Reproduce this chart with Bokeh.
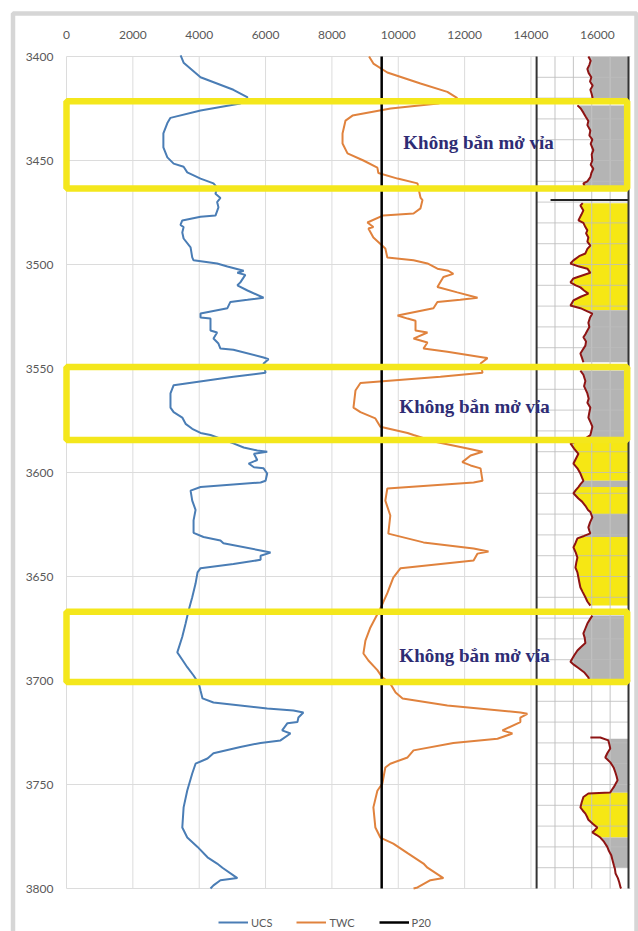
import numpy as np
from bokeh.plotting import figure
from bokeh.models import Range1d, Legend, LegendItem
from bokeh.core.properties import value
from bokeh.embed import file_html
from bokeh.resources import INLINE

# ---- well log data (depth in m, strength in psi) ----
UCS_DEPTH = [3399.5, 3403, 3410, 3416, 3419.7, 3422.6, 3426, 3429.5, 3432, 3437, 3443.7, 3448.5,
             3451.5, 3453, 3455.7, 3458.7, 3461, 3463, 3466, 3468, 3470, 3472.5, 3476.5, 3477,
             3478.8, 3481, 3482, 3484.6, 3487.5, 3491.8, 3496.6, 3498, 3499.5, 3501, 3503, 3504,
             3505, 3508.6, 3510, 3512.5, 3516, 3517, 3518, 3521, 3523.6, 3525.5, 3526, 3531.7,
             3532.7, 3535.6, 3538, 3540.4, 3541, 3544.7, 3545.5, 3547.6, 3552, 3554, 3558, 3562,
             3568.8, 3571, 3573.6, 3576.6, 3579, 3581, 3582, 3586, 3588, 3589.4, 3590, 3591,
             3594, 3595.7, 3597.5, 3598, 3600.5, 3604, 3604.8, 3607, 3608.7, 3613.5, 3618, 3623,
             3629, 3631, 3632.7, 3634, 3637.5, 3638.5, 3640, 3642, 3644, 3646, 3648, 3653.4,
             3660, 3666.3, 3672.6, 3679, 3686.5, 3690, 3693.6, 3697.6, 3701.5, 3704.8, 3708.6,
             3710.6, 3713.5, 3714.4, 3715.4, 3717.8, 3720, 3720.5, 3724, 3725.5, 3728.8, 3730,
             3732, 3735, 3737.5, 3740, 3744.7, 3752.9, 3761, 3770.7, 3775.5, 3780, 3785, 3788,
             3790, 3795, 3796, 3798.5, 3800]
UCS = [3440, 3530, 4040, 5030, 5460, 5240, 4040, 3134, 3040, 2920, 2920, 3040,
       3230, 3530, 3640, 4040, 4430, 4540, 4490, 4640, 4540, 4580, 4490, 4040,
       3490, 3436, 3530, 3490, 3530, 3740, 3790, 3830, 4540, 4850, 5340, 5150,
       5390, 5240, 5150, 5455, 5940, 5455, 4940, 4850, 4040, 4040, 4340, 4340,
       4540, 4430, 4580, 4640, 5030, 5940, 6090, 5940, 6000, 5030, 3230, 3134,
       3134, 3230, 3490, 3590, 3790, 4040, 4340, 5030, 5340, 5750, 6050, 5650,
       5750, 5490, 5650, 5940, 6050, 6000, 5850, 4040, 3740, 3790, 3890, 3830,
       3830, 4130, 4640, 4730, 5850, 6150, 5850, 5850, 5030, 4040, 3950, 3890,
       3790, 3680, 3590, 3490, 3340, 3490, 3640, 3830, 3990, 4040, 4100,
       4430, 6050, 6840, 7140, 6990, 6960, 6660, 6500, 6750, 6450, 5850,
       5240, 4430, 4250, 3890, 3790, 3640, 3530, 3490, 3640, 3950, 4250, 4540,
       4700, 5150, 4640, 4430, 4340]

TWC_DEPTH = [3400, 3403.4, 3407.7, 3413, 3417, 3420, 3422.6, 3425, 3428.4, 3430.8, 3437, 3441.8,
             3446.6, 3450, 3453.4, 3456, 3458.7, 3461, 3463.5, 3467.8, 3469, 3473, 3475.5, 3476.4,
             3479.8, 3482, 3482.7, 3487, 3492.3, 3496.6, 3498, 3499.5, 3502, 3503, 3504.5, 3506,
             3510.8, 3513.4, 3516, 3517, 3518, 3521, 3524.5, 3526, 3527, 3531.7, 3532.7, 3535.6,
             3537.5, 3540.4, 3542, 3544.7, 3545, 3547.6, 3552, 3554, 3557, 3560.6, 3568.8, 3571,
             3574, 3578, 3581, 3582, 3585.5, 3588.5, 3590, 3591.8, 3595, 3596.6, 3598, 3604,
             3604.8, 3607.7, 3613.5, 3620.7, 3629.4, 3633.6, 3636.5, 3638, 3639, 3642.3, 3646,
             3650.5, 3658, 3665.4, 3674.5, 3680.8, 3687, 3690.4, 3695, 3698.5, 3701.5, 3705.8,
             3708.7, 3712, 3715.4, 3716, 3717.8, 3720, 3724, 3725.5, 3728, 3730, 3733.6, 3737,
             3740, 3741.8, 3749.5, 3753, 3761, 3770.7, 3775.5, 3778.4, 3783, 3788, 3790, 3795,
             3796, 3799.5, 3800]
TWC = [9120, 9250, 9670, 10670, 11480, 11780, 11200, 9770, 8620, 8410, 8320, 8320,
       8470, 8950, 9370, 9400, 9980, 10580, 10610, 10670, 10730, 10670, 10460, 9550,
       9070, 9250, 9100, 9250, 9610, 9670, 10460, 10880, 11180, 11510, 11660, 11360,
       11180, 11780, 12390, 11870, 11180, 11060, 9980, 10280, 10520, 10520, 10880, 10460,
       10880, 10760, 11480, 12570, 12690, 12480, 12540, 11270, 8860, 8710, 8650, 8860,
       9310, 9460, 10280, 10460, 11180, 12090, 12540, 12180, 11930, 12180, 12480, 12540,
       12270, 9670, 9610, 9760, 9700, 10760, 12270, 12720, 12390, 12270, 10070,
       9850, 9670, 9460, 9160, 9010, 8950, 9100, 9370, 9520, 9760, 9920,
       10130, 11480, 13680, 13890, 13680, 13680, 13140, 13440, 12990, 11660, 10460, 10280,
       9760, 9610, 9520, 9370, 9250, 9310, 9460, 9850, 10280, 10760, 10880, 11360,
       10970, 10580, 10460]

P20_DEPTH = [3400, 3800]
P20 = [9500, 9500]

X_TICKS = [0, 2000, 4000, 6000, 8000, 10000, 12000, 14000, 16000]
Y_TICKS = [3400, 3450, 3500, 3550, 3600, 3650, 3700, 3750, 3800]
X_MAX = 17000

# intervals left closed (no perforation)
ZONE_TOP = [3421.5, 3549.3, 3667.0]
ZONE_BOTTOM = [3463.5, 3584.4, 3700.7]
ZONE_RIGHT = 16900
ZONE_LABEL = "Không bắn mở vỉa"
ZONE_LABEL_X = [12420, 12300, 12300]
ZONE_LABEL_DEPTH = [3441.3, 3568.3, 3688.0]

# lithology track: gamma-ray style curve, one list per logged run
GR_DEPTH = [
    [3400, 3402, 3404, 3406, 3408, 3410, 3412, 3414, 3416, 3418, 3420],
    [3423.5, 3425, 3427, 3429, 3431, 3433, 3435.6, 3438, 3440, 3442, 3445, 3447, 3450,
     3452, 3454, 3456, 3458, 3460, 3461, 3462.5],
    [3470.5, 3471.6, 3474, 3476, 3478.8, 3480, 3482, 3483.6, 3485, 3487, 3489, 3490.9,
     3492.5, 3494.7, 3496, 3498, 3499.5, 3501, 3502, 3504, 3505.5, 3506.7, 3508.6, 3510,
     3511, 3512.5, 3514, 3515.5, 3517.3, 3519.7, 3521, 3522.5, 3523.6, 3525.5, 3528, 3530,
     3531.7, 3533.5, 3535, 3537, 3539, 3541, 3542.8, 3545, 3547],
    [3551, 3553, 3556, 3558.5, 3562, 3564.5, 3566.5, 3568.8, 3571, 3573.6, 3576, 3578,
     3580, 3582, 3584, 3586, 3588.5, 3591, 3593.5, 3595.7, 3598, 3600.5, 3602.5, 3604,
     3605.5, 3607, 3608.5, 3610, 3612.5, 3614, 3616, 3618, 3619, 3621.6, 3624, 3626.4,
     3628, 3629.3, 3630.5, 3631.7, 3634, 3636, 3638.5, 3640.9, 3643, 3645.7, 3648, 3650.5,
     3653, 3655.3, 3657.5, 3660, 3662, 3664],
    [3668.8, 3670.5, 3672.6, 3675, 3677.4, 3679.5, 3682, 3684, 3685.6, 3688, 3691, 3692.5,
     3694, 3696, 3698.5, 3700],
    [3727.4, 3727.4, 3728.8, 3730.5, 3732.7, 3735, 3737, 3739.5, 3741.8, 3744, 3746, 3748,
     3750, 3751.4, 3753, 3753.8, 3754.3, 3756, 3758.5, 3761, 3762.5, 3764, 3765.5, 3767,
     3769, 3770.7, 3772, 3773, 3774.3, 3775.5, 3777.5, 3780, 3782, 3784, 3786.5, 3789,
     3790.5, 3792.8, 3795, 3797, 3799.5, 3800],
]
GR = [
    [15730, 15800, 15760, 15700, 15740, 15820, 15780, 15860, 15790, 15830, 15860],
    [15400, 15500, 15580, 15650, 15730, 15700, 15790, 15760, 15850, 15800, 15880, 15830, 15850,
     15800, 15880, 15820, 15790, 15700, 15580, 15620],
    [15560, 15490, 15580, 15520, 15430, 15580, 15640, 15700, 15660, 15730, 15700, 15790,
     15700, 15640, 15450, 15280, 15190, 15450, 15700, 15790, 15500, 15280, 15190, 15350,
     15490, 15600, 15730, 15500, 15280, 15190, 15490, 15700, 15850, 15780, 15730, 15760,
     15700, 15640, 15580, 15660, 15640, 15560, 15490, 15540, 15580],
    [15490, 15580, 15640, 15600, 15700, 15740, 15700, 15790, 15760, 15730, 15800, 15850,
     15820, 15790, 15600, 15190, 15300, 15430, 15350, 15280, 15400, 15490, 15540, 15580,
     15500, 15430, 15350, 15280, 15430, 15540, 15640, 15720, 15790, 15850, 15780, 15730,
     15760, 15790, 15600, 15400, 15340, 15280, 15350, 15400, 15370, 15340, 15400, 15430,
     15460, 15490, 15560, 15640, 15700, 15790],
    [15850, 15780, 15700, 15640, 15580, 15620, 15640, 15500, 15400, 15300, 15190, 15300,
     15430, 15600, 15730, 15760],
    [15790, 16090, 16330, 16360, 16390, 16300, 16240, 16400, 16490, 16540, 16580, 16610,
     16540, 16490, 16420, 16390, 15730, 15580, 15530, 15490, 15560, 15640, 15690, 15730,
     15870, 16000, 15920, 15850, 15980, 16090, 16200, 16300, 16350, 16420, 16460, 16500,
     16530, 16550, 16620, 16660, 16700, 16720],
]
LITHO_TOP = [3400, 3423.5, 3470.5, 3522, 3551, 3585.5, 3604, 3607, 3620, 3631, 3668.8,
             3728, 3754, 3775.5]
LITHO_BOTTOM = [3420, 3462.5, 3522, 3547, 3583, 3604, 3607, 3620, 3631, 3664, 3700,
                3754, 3775.5, 3790]
LITHO = ["shale", "shale", "sand", "shale", "shale", "sand", "shale", "sand", "shale",
         "sand", "shale", "shale", "sand", "shale"]

TRACK_LEFT, TRACK_RIGHT = 14170, 16940
TRACK_MARKER_DEPTH = 3469

# ---- styling ----
BLUE = "#4a7db5"
ORANGE = "#e0823d"
YELLOW = "#f4e71c"
SAND = "#f6e714"
SHALE = "#b4b4b4"
GR_RED = "#8e1414"
LABEL_GREY = "#595959"
GRID = "#dcdcdc"
FONT = "Lato"

# ---- page layout (pixels) ----
W, H = 638, 931
PLOT_L, PLOT_R, PLOT_T, PLOT_B = 66, 630, 56, 888   # plotting box on the page

# the figure's frame covers the whole page; data ranges are stretched so the
# log box lands on PLOT_L..PLOT_R / PLOT_T..PLOT_B and the margins hold the labels
x_per_px = X_MAX / (PLOT_R - PLOT_L)
d_per_px = (Y_TICKS[-1] - Y_TICKS[0]) / (PLOT_B - PLOT_T)
x_lo = 0 - PLOT_L * x_per_px
x_hi = X_MAX + (W - PLOT_R) * x_per_px
d_top = Y_TICKS[0] - PLOT_T * d_per_px
d_bot = Y_TICKS[-1] + (H - PLOT_B) * d_per_px


def px_x(px):
    return x_lo + px * x_per_px


def px_y(py):
    return d_top + py * d_per_px


p = figure(width=W, height=H, output_backend="svg", toolbar_location=None,
           x_range=Range1d(x_lo, x_hi), y_range=Range1d(d_bot, d_top),
           x_axis_location=None, y_axis_location=None,
           min_border=0, background_fill_color="white", border_fill_color="white",
           outline_line_color=None)
p.grid.visible = False

# gridlines and tick labels
p.segment(x0=X_TICKS, x1=X_TICKS, y0=Y_TICKS[0], y1=Y_TICKS[-1], line_color=GRID, line_width=1)
p.segment(x0=0, x1=X_MAX, y0=Y_TICKS, y1=Y_TICKS, line_color=GRID, line_width=1)
p.text(x=X_TICKS, y=[Y_TICKS[0]] * len(X_TICKS), text=[str(t) for t in X_TICKS],
       y_offset=-22, text_align="center", text_baseline="middle",
       text_font=value(FONT), text_font_size="12px", text_color=LABEL_GREY)
p.text(x=[0] * len(Y_TICKS), y=Y_TICKS, text=[str(t) for t in Y_TICKS],
       x_offset=-13, text_align="right", text_baseline="middle",
       text_font=value(FONT), text_font_size="12px", text_color=LABEL_GREY)

# lithology track: white panel, fills, grid, curve and borders
p.quad(left=TRACK_LEFT, right=TRACK_RIGHT, top=Y_TICKS[0], bottom=Y_TICKS[-1],
       fill_color="white", line_color=None)

for top, bottom, kind in zip(LITHO_TOP, LITHO_BOTTOM, LITHO):
    for d, g in zip(GR_DEPTH, GR):
        d = np.asarray(d, float)
        g = np.asarray(g, float)
        if d[0] <= top and d[-1] >= bottom:
            inside = (d > top) & (d < bottom)
            ys = np.concatenate([[top], d[inside], [bottom]])
            xs = np.concatenate([[np.interp(top, d, g)], g[inside], [np.interp(bottom, d, g)]])
            p.harea(x1=xs, x2=TRACK_RIGHT, y=ys,
                    fill_color=SAND if kind == "sand" else SHALE)
            break

step = (TRACK_RIGHT - TRACK_LEFT) / 5
track_cols = [TRACK_LEFT + step * k for k in range(1, 5)]
p.segment(x0=track_cols, x1=track_cols, y0=Y_TICKS[0], y1=Y_TICKS[-1],
          line_color="#c4c4c4", line_width=1)
track_rows = list(range(3410, 3800, 10))
p.segment(x0=TRACK_LEFT, x1=TRACK_RIGHT, y0=track_rows, y1=track_rows,
          line_color="#bdbdbd", line_width=1, line_alpha=0.8)

for d, g in zip(GR_DEPTH, GR):
    p.line(g, d, line_color=GR_RED, line_width=2)

p.segment(x0=14590, x1=TRACK_RIGHT, y0=TRACK_MARKER_DEPTH, y1=TRACK_MARKER_DEPTH,
          line_color="#222222", line_width=2)
p.segment(x0=[TRACK_LEFT, TRACK_RIGHT], x1=[TRACK_LEFT, TRACK_RIGHT],
          y0=Y_TICKS[0], y1=Y_TICKS[-1], line_color="#333333", line_width=2)

# strength curves and P20 reference
r_ucs = p.line(UCS, UCS_DEPTH, line_color=BLUE, line_width=2)
r_twc = p.line(TWC, TWC_DEPTH, line_color=ORANGE, line_width=2)
r_p20 = p.line(P20, P20_DEPTH, line_color="black", line_width=2.5)

# zones left closed
p.quad(left=0, right=ZONE_RIGHT, top=ZONE_TOP, bottom=ZONE_BOTTOM,
       fill_color=None, line_color=YELLOW, line_width=6.5)

p.text(x=ZONE_LABEL_X, y=ZONE_LABEL_DEPTH, text=[ZONE_LABEL] * len(ZONE_LABEL_X),
       text_font=value("Liberation Serif"), text_font_style="bold",
       text_font_size="19px", text_color="#2e2c74",
       text_align="center", text_baseline="middle")

# light grey chart border
p.quad(left=px_x(12.5), right=px_x(636), top=px_y(13), bottom=px_y(H + 4),
       fill_color=None, line_color="#d6d6d6", line_width=4.5)

legend = Legend(items=[LegendItem(label="UCS", renderers=[r_ucs]),
                       LegendItem(label="TWC", renderers=[r_twc]),
                       LegendItem(label="P20", renderers=[r_p20])],
                orientation="horizontal", location=(218, 2),
                glyph_width=30, glyph_height=14, label_height=14,
                label_standoff=3, spacing=24, padding=0, margin=0,
                label_text_font=FONT, label_text_font_size="11px",
                label_text_color=LABEL_GREY,
                border_line_color=None, background_fill_alpha=0)
p.add_layout(legend)

open("out.html", "w").write(file_html(p, INLINE))
